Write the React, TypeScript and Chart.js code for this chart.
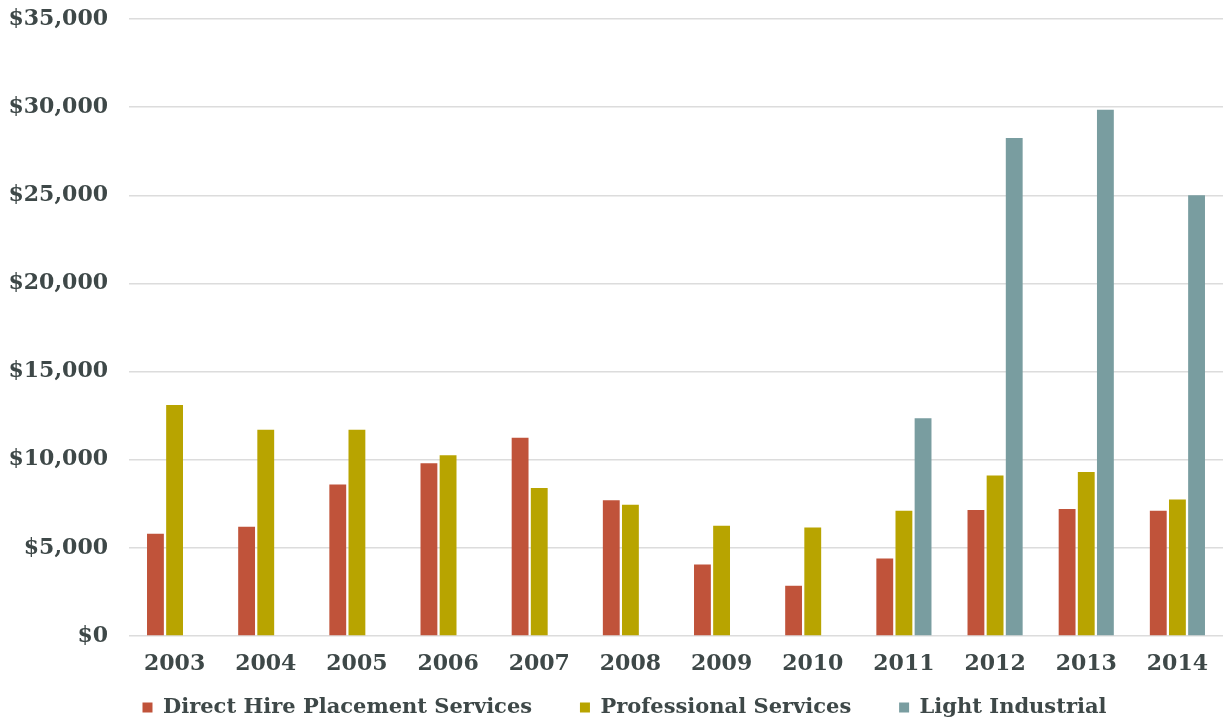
import React, { useEffect, useRef } from "react";
import { Chart, registerables } from "chart.js";

Chart.register(...registerables);

const years = ["2003", "2004", "2005", "2006", "2007", "2008", "2009", "2010", "2011", "2012", "2013", "2014"];
const directHire = [5800, 6200, 8600, 9800, 11250, 7700, 4050, 2850, 4400, 7150, 7200, 7100];
const professional = [13100, 11700, 11700, 10250, 8400, 7450, 6250, 6150, 7100, 9100, 9300, 7750];
const lightIndustrial = [null, null, null, null, null, null, null, null, 12350, 28250, 29850, 25000];
const yTicks = [0, 5000, 10000, 15000, 20000, 25000, 30000, 35000];

const FONT = "'DejaVu Serif', Georgia, serif";
const TEXT = "#3e4848";
const LEGEND_GAP = "      ";

const legendShift = {
  id: "legendShift",
  afterLayout(c: any) {
    if (c.legend) c.legend.left += 14;
  },
};

export default function App() {
  const ref = useRef<HTMLCanvasElement | null>(null);
  useEffect(() => {
    document.body.style.margin = "0";
    if (!ref.current) return;
    const chart = new Chart(ref.current, {
      type: "bar",
      data: {
        labels: years,
        datasets: [
          { label: "Direct Hire Placement Services", data: directHire, backgroundColor: "#c0533a" },
          { label: "Professional Services", data: professional, backgroundColor: "#b8a400" },
          { label: "Light Industrial", data: lightIndustrial as any, backgroundColor: "#799da0" },
        ],
      },
      plugins: [legendShift],
      options: {
        animation: false,
        responsive: false,
        maintainAspectRatio: false,
        layout: { padding: { left: 8, right: -4, top: 19, bottom: -4 } },
        datasets: { bar: { categoryPercentage: 0.63, barPercentage: 0.88 } },
        plugins: {
          tooltip: { enabled: false },
          legend: {
            position: "bottom",
            labels: {
              boxWidth: 10,
              boxHeight: 10,
              padding: 4,
              color: TEXT,
              font: { family: FONT, size: 21, weight: "bold" },
              generateLabels: (c: any) => {
                const items = Chart.defaults.plugins.legend.labels.generateLabels(c);
                return items.map((it: any, i: number) => ({
                  ...it,
                  text: i < items.length - 1 ? it.text + LEGEND_GAP : it.text,
                  lineWidth: 0,
                }));
              },
            },
          },
        },
        scales: {
          x: {
            afterFit: (s: any) => { s.height = 57; },
            grid: { display: false },
            border: { display: false },
            ticks: { color: TEXT, padding: 7, font: { family: FONT, size: 22, weight: "bold" } },
          },
          y: {
            min: 0,
            max: 35000,
            afterFit: (s: any) => { s.width = 121; },
            afterBuildTicks: (s: any) => { s.ticks = yTicks.map((v) => ({ value: v })); },
            grid: { color: "#dcdcdc", lineWidth: 1.5, drawTicks: true, tickLength: 21, tickColor: "rgba(0,0,0,0)" },
            border: { display: false },
            ticks: {
              color: TEXT,
              padding: 0,
              font: { family: FONT, size: 22, weight: "bold" },
              callback: (v: any) => "$" + Number(v).toLocaleString("en-US"),
            },
          },
        },
      },
    });
    return () => chart.destroy();
  }, []);
  return (
    <div style={{ position: "fixed", left: 0, top: 0, width: 1223, height: 724, background: "#fff" }}>
      <canvas ref={ref} width={1223} height={724} style={{ width: 1223, height: 724 }} />
    </div>
  );
}
